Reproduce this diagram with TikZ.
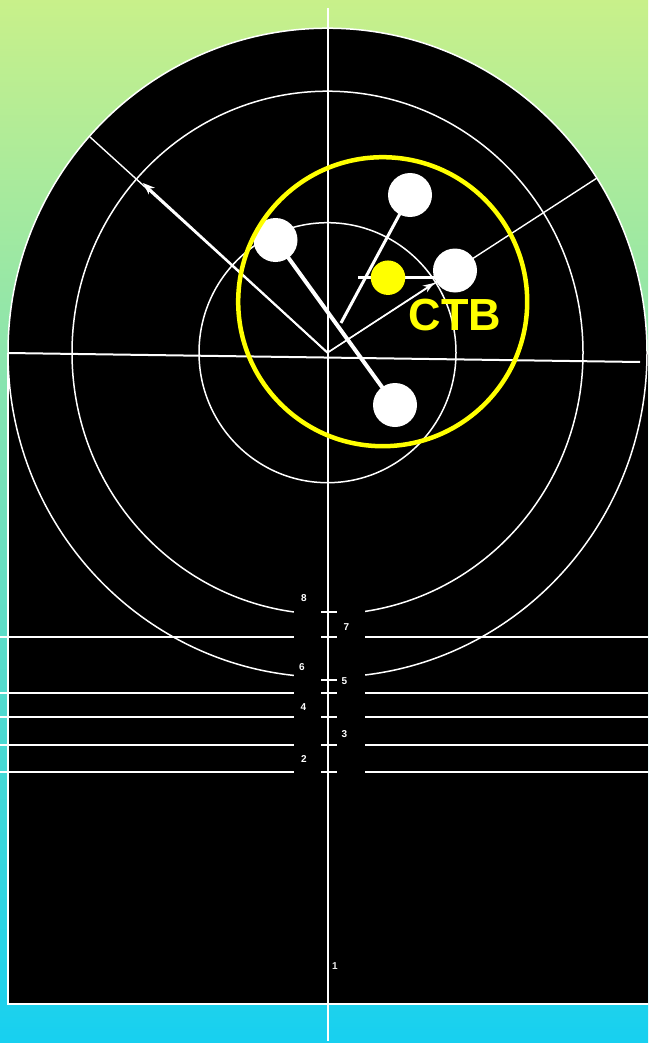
\documentclass[tikz,border=0pt]{standalone}
\usepackage{fontspec}
\setmainfont{Liberation Sans}
\usetikzlibrary{arrows.meta, positioning, calc}

\definecolor{bgtop}{HTML}{C8F08A}
\definecolor{bgbot}{HTML}{17D0F0}
\definecolor{ctbyellow}{HTML}{FFFF00}

\begin{document}
\begin{tikzpicture}[x=1pt, y=-1pt, >=Stealth,
  ring/.style={white, line width=1.5pt},
  axis/.style={white, line width=2pt},
  hline/.style={white, line width=1.8pt},
  tick/.style={white, line width=1.5pt},
  ray/.style={white, line width=1.4pt},
  shotline/.style={white, line width=3pt},
  shot/.style={circle, fill=white, inner sep=0pt, minimum size=44pt},
  mpi/.style={circle, fill=ctbyellow, inner sep=0pt, minimum size=34.5pt},
  numlbl/.style={white, inner sep=0pt, font=\bfseries\fontsize{10}{10}\selectfont},
  ctb/.style={ctbyellow, inner sep=0pt, font=\bfseries\fontsize{45}{45}\selectfont}
]
  \useasboundingbox (0,0) rectangle (648,1043);
  % ======= background =======
  \shade[top color=bgtop, bottom color=bgbot] (0,0) rectangle (648,1043);

  % ======= target face =======
  \coordinate (C) at (327.5,352.7);
  \fill[black] (C) ellipse [x radius=319.5pt, y radius=324.5pt];
  \fill[black] (8,352.7) rectangle (648,1004);
  \draw[ring] (C) ellipse [x radius=128.5pt, y radius=130pt];
  \draw[ring] (C) ellipse [x radius=255.5pt, y radius=261.5pt];
  \draw[ring] (C) ellipse [x radius=319.5pt, y radius=324.5pt];
  \draw[ring] (8,352.7) -- (8,1004) -- (648,1004);

  % scoring lines
  \foreach \hy in {636.7,693,717,745,771.7}
    \draw[hline] (0,\hy) -- (648,\hy);
  % centre strip
  \fill[black] (293.5,592) rectangle (364.5,785);

  % axes
  \coordinate (axl) at (8,353);
  \coordinate (axr) at (640,362);
  \coordinate (vt) at (327.5,8);
  \coordinate (vb) at (327.5,1040.5);
  \draw[axis] (axl) -- (axr);
  \draw[axis] (vt) -- (vb);

  % ticks and numbers
  \foreach \ty in {612,637,680,693,717,745,772}
    \draw[tick] (321,\ty) -- (337,\ty);
  \node[numlbl] (n8) at (304,598.3) {8};
  \node[numlbl] (n7) at (346.5,627.3) {7};
  \node[numlbl] (n6) at (302,667.3) {6};
  \node[numlbl] (n5) at (344.3,680.7) {5};
  \node[numlbl] (n4) at (303.3,706.7) {4};
  \node[numlbl] (n3) at (344.3,734) {3};
  \node[numlbl] (n2) at (304,759) {2};
  \node[numlbl, white!85!gray] (n1) at (335,966) {1};

  % ======= rays and arrows =======
  \coordinate (ul) at (90,137);
  \coordinate (ur) at (597,178);
  \coordinate (ula) at (143,183);
  \coordinate (ura) at (434,283);
  \draw[ray] (C) -- (ul);
  \draw[ray] (C) -- (ur);
  \draw[ray, line width=2pt, -{Stealth[length=12pt, width=9pt]}] (C) -- (ula);
  \draw[ray, -{Stealth[length=11pt, width=8pt]}] (C) -- (ura);

  % ======= shots =======
  \coordinate (p1) at (275.5,240);
  \coordinate (p2) at (410,195);
  \coordinate (p3) at (455,270.5);
  \coordinate (p4) at (395,405);
  \coordinate (m14) at (341,323);
  \coordinate (g3) at (358,277.7);
  \draw[shotline, line width=4pt] (p1) -- (p4);
  \draw[shotline] (p2) -- (m14);
  \draw[shotline] (g3) -- (g3 -| p3);
  \node[shot] (s1) at (p1) {};
  \node[shot] (s2) at (p2) {};
  \node[shot] (s3) at (p3) {};
  \node[shot] (s4) at (p4) {};
  \node[mpi] (mp) at (388,277.7) {};

  % group circle
  \node[circle, draw=ctbyellow, line width=4.5pt, inner sep=0pt, minimum size=289pt] (grp) at (382.7,301.7) {};
  \node[ctb] (ctb) at (454.8,315.5) {CTB};
\end{tikzpicture}
\end{document}
